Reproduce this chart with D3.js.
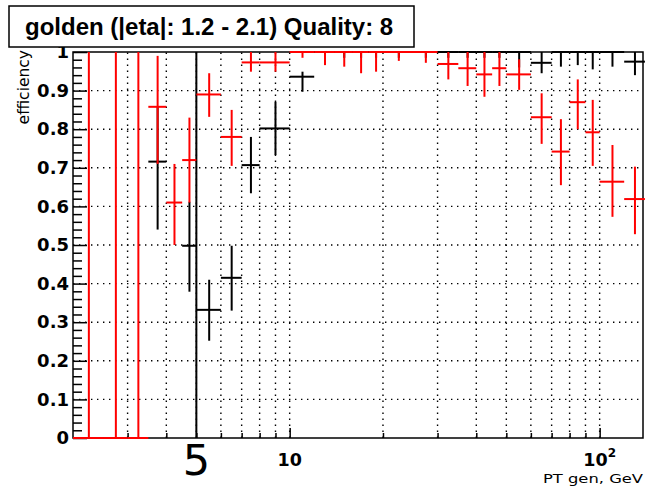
<!DOCTYPE html>
<html>
<head>
<meta charset="utf-8">
<script src="https://cdn.jsdelivr.net/npm/d3@7"></script>
<style>
  body { margin: 0; background: #fff; }
  svg { display: block; }
</style>
</head>
<body>
<svg></svg>
<script>
const width = 645;
const height = 488;

// frame of the plot area
const plotLeft = 73;
const plotRight = 643;
const plotTop = 52;
const plotBottom = 438;

// pT bins (GeV), one point per bin
const binEdges = [2, 2.5, 3, 3.5, 4, 4.5, 5, 6, 7, 8, 10, 12, 14, 16, 18, 20, 25, 30, 35, 40, 45, 50, 60, 70, 80, 90, 100, 120, 140];

// red series: efficiency and its error band
const redEff  = [0, 0, 0, 0.858, 0.61, 0.72, 0.89, 0.78, 0.973, 0.973, 1, 1, 1, 1, 1, 1, 1, 0.969, 0.958, 0.942, 0.958, 0.942, 0.831, 0.742, 0.87, 0.792, 0.664, 0.619];
const redLow  = [0, 0, 0, 0.71, 0.50, 0.61, 0.832, 0.705, 0.949, 0.949, 0.985, 0.966, 0.962, 0.945, 0.949, 0.977, 0.972, 0.929, 0.912, 0.884, 0.912, 0.902, 0.762, 0.655, 0.80, 0.705, 0.573, 0.528];
const redHigh = [1, 1, 1, 0.99, 0.71, 0.83, 0.945, 0.85, 1, 1, 1, 1, 1, 1, 1, 1, 1, 1, 1, 1, 1, 0.981, 0.893, 0.826, 0.929, 0.876, 0.759, 0.703];

// black series (null = no point in that bin)
const blackEff  = [null, null, null, 0.716, null, 0.498, 0.332, 0.415, 0.707, 0.802, 0.936, 1, 1, 1, 1, 1, 1, 1, 1, 1, 1, 1, 0.972, 1, 1, 1, 1, 0.975];
const blackLow  = [null, null, null, 0.54, null, 0.379, 0.252, 0.33, 0.634, 0.733, 0.897, 0.985, 0.985, 0.985, 0.985, 0.985, 0.985, 0.985, 0.985, 0.985, 0.985, 0.96, 0.945, 0.962, 0.966, 0.955, 0.962, 0.94];
const blackHigh = [null, null, null, 0.86, null, 0.612, 0.41, 0.498, 0.78, 0.871, 0.949, 1, 1, 1, 1, 1, 1, 1, 1, 1, 1, 1, 1, 1, 1, 1, 1, 1];

const yMajorTicks = [0, 0.1, 0.2, 0.3, 0.4, 0.5, 0.6, 0.7, 0.8, 0.9, 1];
const xMinorTicks = [3, 4, 5, 6, 7, 8, 9, 20, 30, 40, 50, 60, 70, 80, 90];
const xMajorTicks = [10, 100];
const markLine = 5;

const titleText = "golden (|eta|: 1.2 - 2.1) Quality: 8";

let svg = d3.select("svg").attr("width", width).attr("height", height);

const xScale = d3.scaleLog().domain([2, 138]).range([plotLeft, plotRight]);
const yScale = d3.scaleLinear().domain([0, 1]).range([plotBottom, plotTop]);

// frame
svg.append("rect")
  .attr("x", plotLeft).attr("y", plotTop)
  .attr("width", plotRight - plotLeft).attr("height", plotBottom - plotTop)
  .attr("fill", "none").attr("stroke", "#000").attr("stroke-width", 1.5);

// dotted grid
const grid = svg.append("g")
  .attr("stroke", "#000")
  .attr("stroke-width", 1.4)
  .attr("stroke-dasharray", "1.4 4.6");

grid.selectAll(".vg")
  .data(xMinorTicks.concat(xMajorTicks))
  .enter()
  .append("line")
  .attr("x1", (d) => xScale(d)).attr("x2", (d) => xScale(d))
  .attr("y1", plotBottom).attr("y2", plotTop);

grid.selectAll(".hg")
  .data(yMajorTicks.filter((d) => d > 0 && d < 1))
  .enter()
  .append("line")
  .attr("x1", plotLeft).attr("x2", plotRight)
  .attr("y1", (d) => yScale(d)).attr("y2", (d) => yScale(d));

// y axis, ticks pointing inside
const yMinor = d3.range(0, 1.0001, 0.02).filter((d) => Math.abs(d * 10 - Math.round(d * 10)) > 1e-6);

const yAxisMinor = svg.append("g")
  .attr("transform", "translate(" + plotLeft + ",0)")
  .call(d3.axisLeft(yScale).tickValues(yMinor).tickSize(-9).tickFormat(""));

const yAxis = svg.append("g")
  .attr("transform", "translate(" + plotLeft + ",0)")
  .call(d3.axisLeft(yScale).tickValues(yMajorTicks).tickSize(-14).tickPadding(4).tickFormat((d) => String(d)));

// x axis, ticks pointing inside
const xAxisMinor = svg.append("g")
  .attr("transform", "translate(0," + plotBottom + ")")
  .call(d3.axisBottom(xScale).tickValues(xMinorTicks).tickSize(-5).tickFormat(""));

const xAxis = svg.append("g")
  .attr("transform", "translate(0," + plotBottom + ")")
  .call(d3.axisBottom(xScale).tickValues(xMajorTicks).tickSize(-10).tickFormat(""));

[yAxisMinor, yAxis, xAxisMinor, xAxis].forEach((g) => {
  g.select(".domain").remove();
  g.selectAll("line").attr("stroke", "#000").attr("stroke-width", 1.5);
});

yAxis.selectAll("text")
  .attr("font-family", "DejaVu Sans")
  .attr("font-weight", "bold")
  .attr("font-size", 18)
  .attr("fill", "#000");

// x labels: 10 and 10^2
svg.append("text")
  .attr("x", xScale(10)).attr("y", 466)
  .attr("text-anchor", "middle")
  .attr("font-family", "DejaVu Sans").attr("font-weight", "bold").attr("font-size", 17.5)
  .text("10");

const lab100 = svg.append("text")
  .attr("x", xScale(100)).attr("y", 466)
  .attr("text-anchor", "middle")
  .attr("font-family", "DejaVu Sans").attr("font-weight", "bold").attr("font-size", 17.5);
lab100.append("tspan").text("10");
lab100.append("tspan").attr("dy", -9).attr("font-size", 12).text("2");

// axis titles
svg.append("text")
  .attr("x", plotRight).attr("y", 483)
  .attr("text-anchor", "end")
  .attr("font-family", "DejaVu Sans").attr("font-size", 13)
  .attr("textLength", 100).attr("lengthAdjust", "spacingAndGlyphs")
  .text("PT gen, GeV");

svg.append("text")
  .attr("transform", "translate(29,50) rotate(-90)")
  .attr("text-anchor", "end")
  .attr("font-family", "DejaVu Sans").attr("font-size", 15.5)
  .text("efficiency");

// vertical marker at pT = 5 and its label
svg.append("line")
  .attr("x1", xScale(markLine)).attr("x2", xScale(markLine))
  .attr("y1", yScale(0)).attr("y2", yScale(1))
  .attr("stroke", "#000").attr("stroke-width", 2);

svg.append("text")
  .attr("x", xScale(markLine)).attr("y", 475)
  .attr("text-anchor", "middle")
  .attr("font-family", "DejaVu Sans").attr("font-size", 43)
  .text("5");

// error crosses
const drawSeries = (eff, low, high, color) => {
  const pts = eff
    .map((v, i) => ({
      v: v,
      lo: low[i],
      hi: high[i],
      x0: binEdges[i],
      x1: binEdges[i + 1],
      xc: (binEdges[i] + binEdges[i + 1]) / 2,
    }))
    .filter((d) => d.v !== null);

  const g = svg.append("g").attr("stroke", color).attr("stroke-width", 2);

  g.selectAll(".h")
    .data(pts)
    .enter()
    .append("line")
    .attr("x1", (d) => xScale(d.x0)).attr("x2", (d) => xScale(d.x1))
    .attr("y1", (d) => yScale(d.v)).attr("y2", (d) => yScale(d.v));

  g.selectAll(".v")
    .data(pts)
    .enter()
    .append("line")
    .attr("x1", (d) => xScale(d.xc)).attr("x2", (d) => xScale(d.xc))
    .attr("y1", (d) => yScale(d.lo)).attr("y2", (d) => yScale(d.hi));
};

drawSeries(blackEff, blackLow, blackHigh, "#000");
drawSeries(redEff, redLow, redHigh, "#ff0000");

// title box
svg.append("rect")
  .attr("x", 9).attr("y", 6)
  .attr("width", 405).attr("height", 41)
  .attr("fill", "#fff").attr("stroke", "#000").attr("stroke-width", 1.5);

svg.append("text")
  .attr("x", 25).attr("y", 35)
  .attr("font-family", "Liberation Sans").attr("font-weight", "bold").attr("font-size", 24)
  .text(titleText);
</script>
</body>
</html>
